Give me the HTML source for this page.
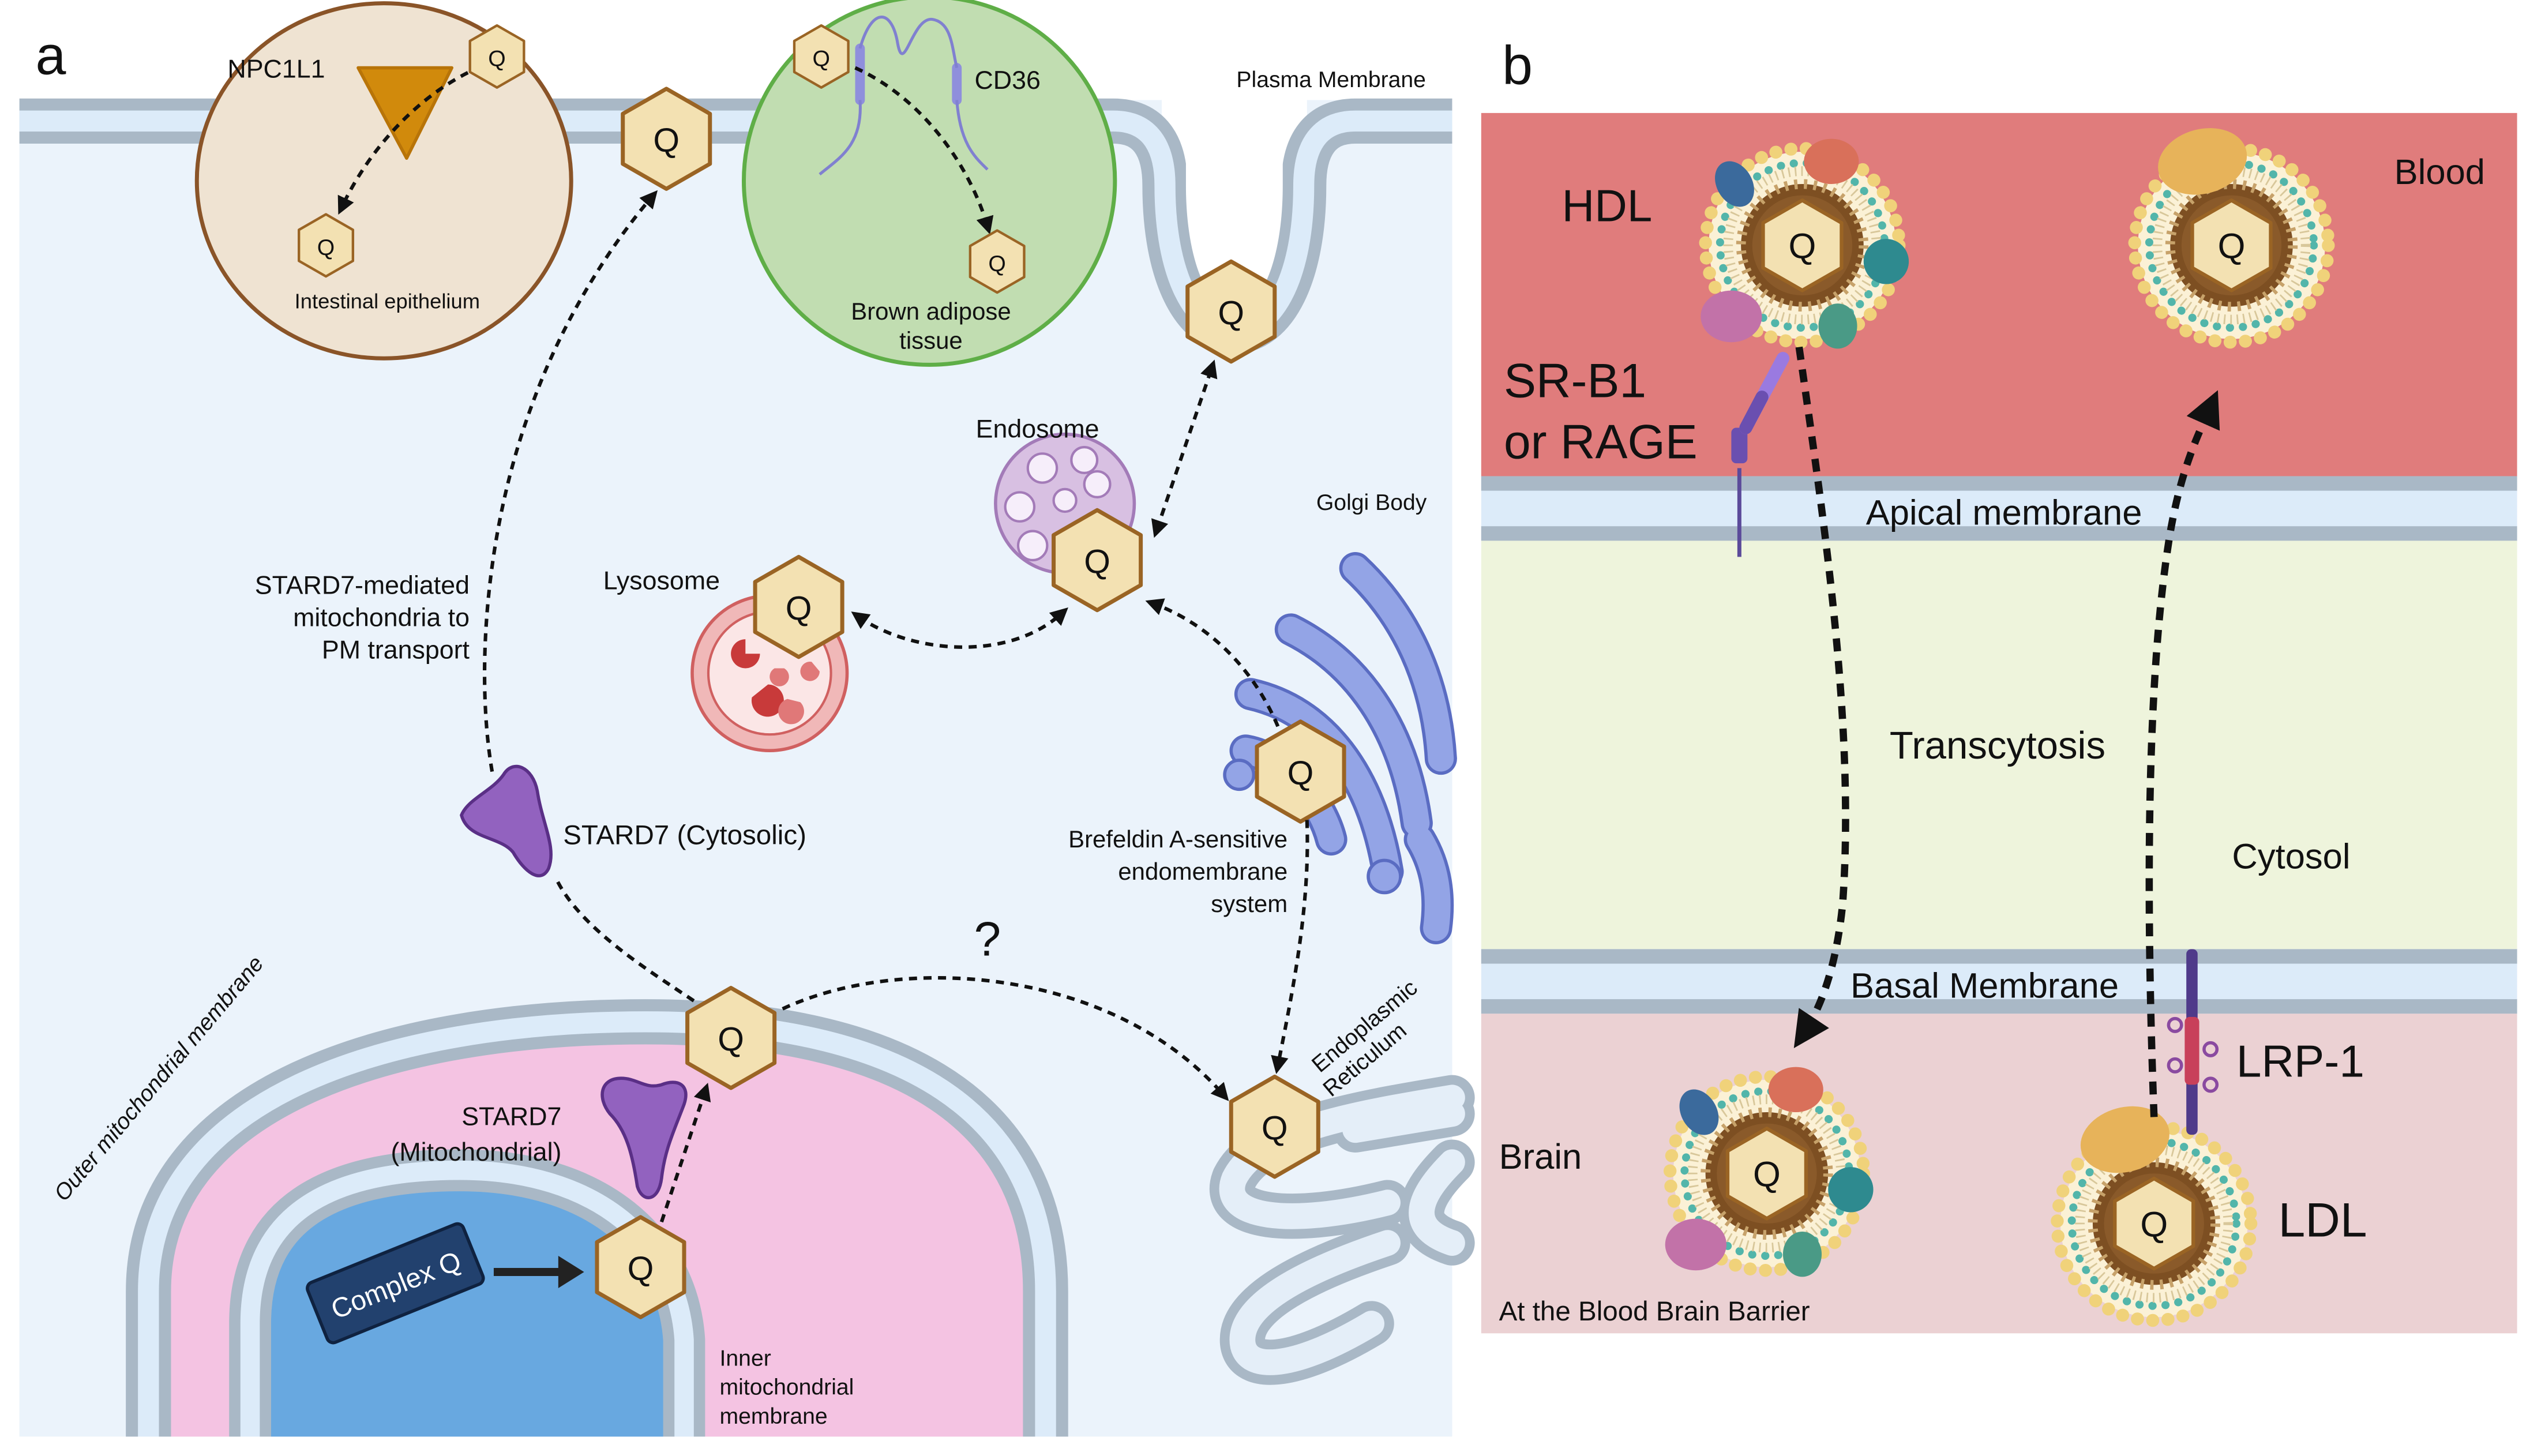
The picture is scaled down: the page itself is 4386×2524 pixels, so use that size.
<!DOCTYPE html>
<html><head><meta charset="utf-8"><style>
html,body{margin:0;padding:0;background:#fff;}
svg{display:block;}
text{font-family:"Liberation Sans",sans-serif;fill:#111;}
</style></head><body>
<svg width="4386" height="2524" viewBox="0 0 1568 902" preserveAspectRatio="none" xmlns="http://www.w3.org/2000/svg">
<defs>
<marker id="ar" viewBox="0 0 10 10" refX="5" refY="5" markerWidth="5" markerHeight="5" orient="auto-start-reverse"><path d="M0,0 L10,5 L0,10 z" fill="#111"/></marker>
<marker id="arb" viewBox="0 0 10 10" refX="5" refY="5" markerWidth="5" markerHeight="5" orient="auto-start-reverse"><path d="M0,0 L10,5 L0,10 z" fill="#111"/></marker>
<polygon id="hex" points="0,-31 27,-15.5 27,15.5 0,31 -27,15.5 -27,-15.5" fill="#f3e1b2" stroke="#9a6424" stroke-width="2.5" stroke-linejoin="round"/>
<g id="lipo">
<circle r="58" fill="#fbf1d6"/>
<circle r="60" fill="none" stroke="#f0d27a" stroke-width="8" stroke-dasharray="0.1 9.4" stroke-linecap="round"/>
<circle r="51" fill="none" stroke="#52b5aa" stroke-width="5" stroke-dasharray="0.1 8" stroke-linecap="round"/>
<circle r="46" fill="none" stroke="#d8c79a" stroke-width="6" stroke-dasharray="1 3"/>
<circle r="38" fill="#7d4f22"/>
<circle r="38" fill="none" stroke="#c7a26a" stroke-width="6" stroke-dasharray="2 4"/>
<circle r="31" fill="#8a5a2a"/>
<use href="#hex" transform="scale(0.9)"/>
</g>
</defs>

<text x="22" y="46" font-size="34">a</text>
<text x="931" y="52" font-size="34">b</text>

<!-- ===== PANEL A ===== -->
<rect x="12" y="62" width="888" height="828" fill="#ebf3fb"/>
<path d="M720 62 L720 120 C720 175 740 210 765 210 C790 210 810 175 810 120 L810 62 Z" fill="#fff"/>
<path d="M12 75 L690 75 C712 75 722 90 722 115 C722 170 740 205 765 205 C790 205 808 170 808 115 C808 90 818 75 840 75 L900 75" fill="none" stroke="#a9b8c6" stroke-width="28"/>
<path d="M12 75 L690 75 C712 75 722 90 722 115 C722 170 740 205 765 205 C790 205 808 170 808 115 C808 90 818 75 840 75 L900 75" fill="none" stroke="#dcebf9" stroke-width="13"/>
<path d="M735 55 L735 115 C735 160 748 192 765 192 C782 192 795 160 795 115 L795 55 Z" fill="#fff"/>

<!-- intestinal epithelium -->
<ellipse cx="238" cy="112" rx="116" ry="110" fill="#efe3d2" stroke="#8a5428" stroke-width="2.5"/>
<polygon points="222,42 280,42 252,98" fill="#d18a0c" stroke="#b87408" stroke-width="2" stroke-linejoin="round"/>
<text x="141" y="48" font-size="16">NPC1L1</text>
<path d="M290 45 C260 60 230 90 212 128" fill="none" stroke="#111" stroke-width="2.2" stroke-dasharray="5 4" marker-end="url(#ar)"/>
<use href="#hex" transform="translate(308,35) scale(0.62)"/>
<text x="308" y="41" font-size="14" text-anchor="middle">Q</text>
<use href="#hex" transform="translate(202,152) scale(0.62)"/>
<text x="202" y="158" font-size="14" text-anchor="middle">Q</text>
<text x="240" y="191" font-size="13" text-anchor="middle">Intestinal epithelium</text>

<!-- brown adipose -->
<ellipse cx="576" cy="112" rx="115" ry="114" fill="#c1ddb1" stroke="#5fae47" stroke-width="2.5"/>
<path d="M533 30 L533 62 M593 42 L593 62" stroke="#8f8fdc" stroke-width="6" stroke-linecap="round"/>
<path d="M533 62 C535 90 520 98 508 108 M593 62 C595 90 605 98 612 105 M533 30 C540 5 552 5 556 25 C560 50 565 10 578 12 C590 14 590 30 593 42" fill="none" stroke="#8080d0" stroke-width="1.8"/>
<text x="604" y="55" font-size="16">CD36</text>
<path d="M530 42 C570 60 600 100 612 140" fill="none" stroke="#111" stroke-width="2.2" stroke-dasharray="5 4" marker-end="url(#ar)"/>
<use href="#hex" transform="translate(509,35) scale(0.62)"/>
<text x="509" y="41" font-size="14" text-anchor="middle">Q</text>
<use href="#hex" transform="translate(618,162) scale(0.62)"/>
<text x="618" y="168" font-size="14" text-anchor="middle">Q</text>
<text x="577" y="198" font-size="15" text-anchor="middle">Brown adipose</text>
<text x="577" y="216" font-size="15" text-anchor="middle">tissue</text>

<text x="825" y="54" font-size="14" text-anchor="middle">Plasma Membrane</text>
<use href="#hex" transform="translate(413,86)"/>
<text x="413" y="94" font-size="21" text-anchor="middle">Q</text>
<use href="#hex" transform="translate(763,193)"/>
<text x="763" y="201" font-size="21" text-anchor="middle">Q</text>

<!-- Golgi -->
<g fill="none" stroke-linecap="round">
<g stroke="#5a6cc2" stroke-width="20">
<path d="M840 352 C870 380 890 420 893 470"/>
<path d="M800 390 C840 410 870 450 878 510"/>
<path d="M775 430 C820 440 850 480 860 540"/>
<path d="M772 465 C800 470 820 500 825 520"/>
<path d="M880 520 C892 540 892 560 890 575"/>
</g>
<g stroke="#93a4e6" stroke-width="16">
<path d="M840 352 C870 380 890 420 893 470"/>
<path d="M800 390 C840 410 870 450 878 510"/>
<path d="M775 430 C820 440 850 480 860 540"/>
<path d="M772 465 C800 470 820 500 825 520"/>
<path d="M880 520 C892 540 892 560 890 575"/>
</g>
</g>
<circle cx="768" cy="480" r="9" fill="#93a4e6" stroke="#5a6cc2" stroke-width="2"/>
<circle cx="858" cy="543" r="10" fill="#93a4e6" stroke="#5a6cc2" stroke-width="2"/>
<text x="850" y="316" font-size="14" text-anchor="middle">Golgi Body</text>

<!-- ER -->
<g fill="none" stroke-linecap="round">
<path d="M900 680 C840 690 780 700 765 730 C755 755 800 760 860 745 M860 770 C800 790 770 810 770 830 C770 850 800 850 850 820 M900 720 C880 740 870 760 900 770 M840 700 L900 690" stroke="#a9b8c6" stroke-width="28"/>
<path d="M900 680 C840 690 780 700 765 730 C755 755 800 760 860 745 M860 770 C800 790 770 810 770 830 C770 850 800 850 850 820 M900 720 C880 740 870 760 900 770 M840 700 L900 690" stroke="#e4eef8" stroke-width="16"/>
</g>
<text transform="translate(818,665) rotate(-40)" font-size="14">Endoplasmic</text>
<text transform="translate(825,680) rotate(-40)" font-size="14">Reticulum</text>

<!-- Endosome -->
<circle cx="660" cy="312" r="43" fill="#d8c0e2" stroke="#a37bb8" stroke-width="2"/>
<g fill="#f6eefa" stroke="#a37bb8" stroke-width="1.5">
<circle cx="646" cy="290" r="9"/><circle cx="672" cy="285" r="8"/><circle cx="632" cy="314" r="9"/><circle cx="680" cy="300" r="8"/><circle cx="640" cy="338" r="9"/><circle cx="660" cy="310" r="7"/>
</g>
<text x="643" y="271" font-size="16" text-anchor="middle">Endosome</text>
<use href="#hex" transform="translate(680,347)"/>
<text x="680" y="355" font-size="21" text-anchor="middle">Q</text>

<!-- Lysosome -->
<circle cx="477" cy="417" r="48" fill="#f0b8b8" stroke="#d06060" stroke-width="2"/>
<circle cx="477" cy="417" r="38" fill="#fbe6e6" stroke="#d06060" stroke-width="1.5"/>
<g fill="#c83a3a">
<path d="M462 396 a9 9 0 1 0 9 9 l-9 0 z"/>
<path d="M466 432 a10 10 0 1 0 10 -8 l-10 8 z"/>
<path d="M488 433 a8 8 0 1 0 8 2 l-8 -2 z" fill="#e07878"/>
<path d="M503 410 a6 6 0 1 0 5 6 l-5 -6 z" fill="#e07878"/>
<path d="M480 414 a6 6 0 1 0 6 0 l-6 0 z" fill="#e07878"/>
</g>
<text x="410" y="365" font-size="16" text-anchor="middle">Lysosome</text>
<use href="#hex" transform="translate(495,376)"/>
<text x="495" y="384" font-size="21" text-anchor="middle">Q</text>

<text x="798" y="525" font-size="15" text-anchor="end">Brefeldin A-sensitive</text>
<text x="798" y="545" font-size="15" text-anchor="end">endomembrane</text>
<text x="798" y="565" font-size="15" text-anchor="end">system</text>
<use href="#hex" transform="translate(806,478)"/>
<text x="806" y="486" font-size="21" text-anchor="middle">Q</text>

<!-- Mitochondria -->
<path d="M92 902 L92 800 C92 680 240 633 400 633 C560 633 648 690 648 800 L648 902" fill="#f4c3e2"/>
<path d="M92 902 L92 800 C92 680 240 633 400 633 C560 633 648 690 648 800 L648 902" fill="none" stroke="#a9b8c6" stroke-width="28"/>
<path d="M92 902 L92 800 C92 680 240 633 400 633 C560 633 648 690 648 800 L648 902" fill="none" stroke="#dcebf9" stroke-width="13"/>
<path d="M155 902 L155 820 C155 745 215 725 285 725 C370 725 420 770 424 830 L424 902" fill="#68a8e0"/>
<path d="M155 902 L155 820 C155 745 215 725 285 725 C370 725 420 770 424 830 L424 902" fill="none" stroke="#a9b8c6" stroke-width="26"/>
<path d="M155 902 L155 820 C155 745 215 725 285 725 C370 725 420 770 424 830 L424 902" fill="none" stroke="#dcebf9" stroke-width="12"/>
<rect x="0" y="890" width="910" height="12" fill="#fff"/>
<rect x="0" y="60" width="12" height="842" fill="#fff"/>

<text transform="translate(40,745) rotate(-50)" font-size="14" font-style="italic">Outer mitochondrial membrane</text>
<path d="M378 690 C370 680 372 668 385 668 C395 668 400 675 410 672 C420 668 428 672 424 684 C418 700 412 712 410 730 C408 745 398 745 395 735 C392 715 388 700 378 690 Z" fill="#9262bf" stroke="#5a2f86" stroke-width="2"/>
<text x="348" y="697" font-size="16" text-anchor="end">STARD7</text>
<text x="348" y="719" font-size="16" text-anchor="end">(Mitochondrial)</text>
<g transform="translate(245,795) rotate(-22)">
<rect x="-52" y="-20" width="104" height="40" rx="4" fill="#22416e" stroke="#0f2240" stroke-width="2"/>
<text x="0" y="7" font-size="17" text-anchor="middle" style="fill:#fff">Complex Q</text>
</g>
<path d="M306 788 L348 788" stroke="#222" stroke-width="5"/>
<polygon points="346,778 362,788 346,798" fill="#222"/>
<use href="#hex" transform="translate(397,785)"/>
<text x="397" y="793" font-size="21" text-anchor="middle">Q</text>
<text x="446" y="846" font-size="14">Inner</text>
<text x="446" y="864" font-size="14">mitochondrial</text>
<text x="446" y="882" font-size="14">membrane</text>
<use href="#hex" transform="translate(453,643)"/>
<text x="453" y="651" font-size="21" text-anchor="middle">Q</text>
<use href="#hex" transform="translate(790,698)"/>
<text x="790" y="706" font-size="21" text-anchor="middle">Q</text>
<text x="612" y="592" font-size="30" text-anchor="middle">?</text>

<path d="M286 505 C290 495 305 490 312 480 C318 470 330 475 333 490 C336 510 345 525 340 538 C335 548 325 540 318 528 C310 518 290 520 286 505 Z" fill="#9262bf" stroke="#5a2f86" stroke-width="2"/>
<text x="349" y="523" font-size="17">STARD7 (Cytosolic)</text>
<text x="291" y="368" font-size="16" text-anchor="end">STARD7-mediated</text>
<text x="291" y="388" font-size="16" text-anchor="end">mitochondria to</text>
<text x="291" y="408" font-size="16" text-anchor="end">PM transport</text>

<g fill="none" stroke="#111" stroke-width="2.2" stroke-dasharray="5 4">
<path d="M430 620 C400 600 360 575 345 545"/>
<path d="M305 478 C295 420 300 330 330 250 C350 195 380 150 404 122" marker-end="url(#ar)"/>
<path d="M410 757 L437 676" marker-end="url(#ar)"/>
<path d="M485 625 C560 590 690 600 758 678" marker-end="url(#ar)"/>
<path d="M810 508 C812 560 802 610 792 660" marker-end="url(#ar)"/>
<path d="M792 450 C775 410 745 385 715 374" marker-end="url(#ar)"/>
<path d="M532 382 C565 405 625 410 658 380" marker-start="url(#ar)" marker-end="url(#ar)"/>
<path d="M717 328 L751 228" marker-start="url(#ar)" marker-end="url(#ar)"/>
</g>

<!-- ===== PANEL B ===== -->
<rect x="918" y="70" width="642" height="225" fill="#e07c7c"/>
<rect x="918" y="295" width="642" height="40" fill="#dcebf9"/>
<rect x="918" y="295" width="642" height="9" fill="#a9b8c6"/>
<rect x="918" y="326" width="642" height="9" fill="#a9b8c6"/>
<rect x="918" y="335" width="642" height="253" fill="#eef4dc"/>
<rect x="918" y="588" width="642" height="40" fill="#dcebf9"/>
<rect x="918" y="588" width="642" height="9" fill="#a9b8c6"/>
<rect x="918" y="619" width="642" height="9" fill="#a9b8c6"/>
<rect x="918" y="628" width="642" height="198" fill="#ebd1d3"/>

<path d="M1078 345 L1078 290" stroke="#5b4a9a" stroke-width="2.5"/>
<rect x="1073" y="265" width="10" height="22" rx="3" fill="#6a4fb0"/>
<path d="M1082 265 L1105 222" stroke="#9a7ae0" stroke-width="8" stroke-linecap="round"/>
<path d="M1082 265 L1092 246" stroke="#6a4fb0" stroke-width="8" stroke-linecap="round"/>

<g transform="translate(1117,152)">
<use href="#lipo"/>
<ellipse cx="-42" cy="-38" rx="11" ry="15" fill="#3b6a9c" transform="rotate(-30 -42 -38)"/>
<ellipse cx="18" cy="-52" rx="17" ry="14" fill="#d9705a"/>
<ellipse cx="52" cy="10" rx="14" ry="14" fill="#2e8a8f"/>
<ellipse cx="-44" cy="44" rx="19" ry="16" fill="#c272a8"/>
<ellipse cx="22" cy="50" rx="12" ry="14" fill="#4a9a86"/>
<text y="8" font-size="22" text-anchor="middle">Q</text>
</g>
<g transform="translate(1095,727)">
<use href="#lipo"/>
<ellipse cx="-42" cy="-38" rx="11" ry="15" fill="#3b6a9c" transform="rotate(-30 -42 -38)"/>
<ellipse cx="18" cy="-52" rx="17" ry="14" fill="#d9705a"/>
<ellipse cx="52" cy="10" rx="14" ry="14" fill="#2e8a8f"/>
<ellipse cx="-44" cy="44" rx="19" ry="16" fill="#c272a8"/>
<ellipse cx="22" cy="50" rx="12" ry="14" fill="#4a9a86"/>
<text y="8" font-size="22" text-anchor="middle">Q</text>
</g>
<g transform="translate(1383,152)">
<use href="#lipo"/>
<ellipse cx="-18" cy="-52" rx="28" ry="20" fill="#e7b35a" transform="rotate(-15 -18 -52)"/>
<text y="8" font-size="22" text-anchor="middle">Q</text>
</g>
<g transform="translate(1335,758)">
<use href="#lipo"/>
<ellipse cx="-18" cy="-52" rx="28" ry="20" fill="#e7b35a" transform="rotate(-15 -18 -52)"/>
<text y="8" font-size="22" text-anchor="middle">Q</text>
</g>

<rect x="1355" y="588" width="7" height="115" rx="3" fill="#4f3a8a"/>
<rect x="1354" y="630" width="9" height="42" rx="3" fill="#c8405a"/>
<g fill="none" stroke="#8a4aa0" stroke-width="2">
<circle cx="1348" cy="635" r="4"/><circle cx="1370" cy="650" r="4"/><circle cx="1348" cy="660" r="4"/><circle cx="1370" cy="672" r="4"/>
</g>

<g fill="none" stroke="#111" stroke-width="4.5" stroke-dasharray="8 6">
<path d="M1115 215 C1130 320 1150 450 1142 560 C1138 600 1128 625 1118 640" marker-end="url(#arb)"/>
<path d="M1335 692 C1330 560 1330 420 1345 330 C1352 290 1362 270 1370 252" marker-end="url(#arb)"/>
</g>

<text x="968" y="137" font-size="28">HDL</text>
<text x="932" y="246" font-size="30">SR-B1</text>
<text x="932" y="284" font-size="30">or RAGE</text>
<text x="1512" y="114" font-size="22" text-anchor="middle">Blood</text>
<text x="1242" y="325" font-size="22" text-anchor="middle">Apical membrane</text>
<text x="1238" y="470" font-size="24" text-anchor="middle">Transcytosis</text>
<text x="1420" y="538" font-size="22" text-anchor="middle">Cytosol</text>
<text x="1230" y="618" font-size="22" text-anchor="middle">Basal Membrane</text>
<text x="929" y="724" font-size="22">Brain</text>
<text x="1386" y="667" font-size="28">LRP-1</text>
<text x="1412" y="766" font-size="30">LDL</text>
<text x="929" y="818" font-size="17">At the Blood Brain Barrier</text>
</svg>
</body></html>
